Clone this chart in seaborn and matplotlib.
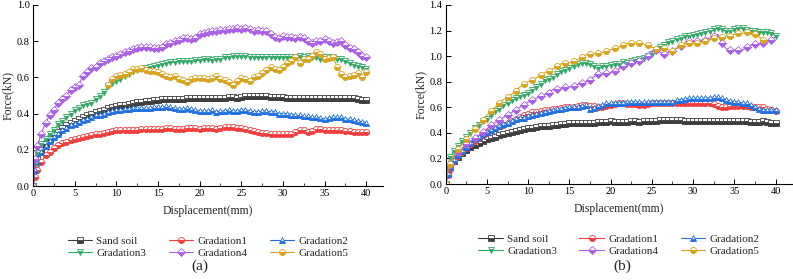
import numpy as np
import pandas as pd
import matplotlib
matplotlib.use("Agg")
import matplotlib.pyplot as plt
from matplotlib.ticker import MultipleLocator
import seaborn as sns

nan = np.nan

# Displacement (mm)
DISP = [0.0, 0.25, 0.5,
        1.0, 1.5, 2.0, 2.5, 3.0, 3.5, 4.0, 4.5, 5.0, 5.5,
        6.0, 6.5, 7.0, 7.5, 8.0, 8.5, 9.0, 9.5, 10.0, 10.5,
        11.0, 11.5, 12.0, 12.5, 13.0, 13.5, 14.0, 14.5, 15.0, 15.5,
        16.0, 16.5, 17.0, 17.5, 18.0, 18.5, 19.0, 19.5, 20.0, 20.5,
        21.0, 21.5, 22.0, 22.5, 23.0, 23.5, 24.0, 24.5, 25.0, 25.5,
        26.0, 26.5, 27.0, 27.5, 28.0, 28.5, 29.0, 29.5, 30.0, 30.5,
        31.0, 31.5, 32.0, 32.5, 33.0, 33.5, 34.0, 34.5, 35.0, 35.5,
        36.0, 36.5, 37.0, 37.5, 38.0, 38.5, 39.0, 39.5, 40.0]

SERIES = ["Sand soil", "Gradation1", "Gradation2", "Gradation3", "Gradation4", "Gradation5"]

# ---------------- Panel (a) ----------------
A_SAND = [0.0, 0.10, 0.15,
          0.20, 0.23, 0.26, 0.28, 0.30, 0.32, 0.335, 0.35, 0.36, 0.37,
          0.38, 0.39, 0.40, 0.41, 0.415, 0.42, 0.43, 0.435, 0.44, 0.445,
          0.45, 0.455, 0.46, 0.465, 0.465, 0.47, 0.47, 0.475, 0.475, 0.48,
          0.48, 0.48, 0.48, 0.48, 0.48, 0.485, 0.485, 0.485, 0.485, 0.485,
          0.485, 0.485, 0.485, 0.485, 0.485, 0.49, 0.49, 0.485, 0.49, 0.495,
          0.495, 0.50, 0.50, 0.50, 0.50, 0.49, 0.49, 0.49, 0.49, 0.485,
          0.485, 0.485, 0.485, 0.485, 0.485, 0.485, 0.485, 0.485, 0.485, 0.485,
          0.485, 0.485, 0.485, 0.485, 0.485, 0.485, 0.48, 0.475, 0.475]
A_G1 = [0.0, 0.05, 0.09,
        0.13, 0.17, 0.19, 0.21, 0.225, 0.235, 0.245, 0.255, 0.26, 0.265,
        0.27, 0.275, 0.28, 0.285, 0.29, 0.295, 0.30, 0.305, 0.31, 0.31,
        0.31, 0.31, 0.31, 0.31, 0.315, 0.315, 0.315, 0.315, 0.315, 0.315,
        0.32, 0.32, 0.315, 0.315, 0.315, 0.32, 0.32, 0.32, 0.315, 0.32,
        0.32, 0.32, 0.315, 0.32, 0.325, 0.325, 0.325, 0.32, 0.32, 0.315,
        0.31, 0.305, 0.30, 0.295, 0.295, 0.29, 0.29, 0.29, 0.29, 0.29,
        0.29, 0.30, 0.31, 0.31, 0.30, 0.305, 0.315, 0.315, 0.31, 0.31,
        0.31, 0.31, 0.31, 0.305, 0.305, 0.30, 0.30, 0.30, 0.30]
A_G2 = [0.0, 0.09, 0.14,
        0.19, 0.22, 0.25, 0.27, 0.29, 0.31, 0.32, 0.335, 0.345, 0.355,
        0.365, 0.37, 0.38, 0.39, 0.395, 0.40, 0.41, 0.415, 0.42, 0.42,
        0.425, 0.425, 0.43, 0.43, 0.43, 0.43, 0.43, 0.435, 0.435, 0.435,
        0.44, 0.435, 0.43, 0.425, 0.425, 0.43, 0.425, 0.42, 0.415, 0.415,
        0.415, 0.42, 0.41, 0.415, 0.415, 0.42, 0.415, 0.415, 0.42, 0.42,
        0.415, 0.41, 0.41, 0.415, 0.415, 0.41, 0.41, 0.40, 0.40, 0.40,
        0.395, 0.39, 0.39, 0.385, 0.385, 0.38, 0.38, 0.375, 0.37, 0.375,
        0.38, 0.38, 0.38, 0.37, 0.37, 0.365, 0.36, 0.355, 0.35]
A_G3 = [0.0, 0.12, 0.18,
        0.23, 0.26, 0.29, 0.31, 0.34, 0.36, 0.38, 0.40, 0.42, 0.43,
        0.445, 0.455, 0.46, 0.48, 0.50, 0.52, 0.55, 0.57, 0.58, 0.59,
        0.61, 0.62, 0.635, 0.64, 0.645, 0.65, 0.66, 0.665, 0.67, 0.675,
        0.68, 0.685, 0.685, 0.69, 0.69, 0.69, 0.69, 0.695, 0.695, 0.70,
        0.70, 0.695, 0.70, 0.70, 0.71, 0.715, 0.72, 0.72, 0.72, 0.72,
        0.715, 0.71, 0.71, 0.71, 0.71, 0.715, 0.71, 0.71, 0.715, 0.71,
        0.715, 0.71, 0.72, 0.71, 0.72, 0.715, 0.715, 0.70, 0.71, 0.715,
        0.71, 0.70, 0.70, 0.69, 0.68, 0.67, 0.665, 0.66, 0.645]
A_G4 = [0.0, 0.15, 0.22,
        0.29, 0.35, 0.39, 0.42, 0.46, 0.48, 0.50, 0.53, 0.545, 0.56,
        0.61, 0.63, 0.65, 0.66, 0.68, 0.69, 0.70, 0.71, 0.72, 0.73,
        0.74, 0.745, 0.755, 0.76, 0.77, 0.77, 0.77, 0.765, 0.76, 0.77,
        0.785, 0.79, 0.80, 0.805, 0.815, 0.82, 0.81, 0.82, 0.84, 0.845,
        0.85, 0.855, 0.855, 0.86, 0.86, 0.865, 0.87, 0.875, 0.87, 0.875,
        0.865, 0.855, 0.86, 0.855, 0.855, 0.84, 0.825, 0.82, 0.83, 0.825,
        0.825, 0.82, 0.825, 0.815, 0.80, 0.79, 0.80, 0.80, 0.81, 0.80,
        0.79, 0.795, 0.80, 0.78, 0.76, 0.755, 0.74, 0.72, 0.71]
A_G5 = [nan, nan, nan,
        nan, nan, nan, nan, nan, nan, nan, nan, nan, nan,
        nan, nan, nan, nan, nan, nan, 0.56, 0.59, 0.61, 0.615,
        0.62, 0.63, 0.645, 0.645, 0.65, 0.64, 0.635, 0.635, 0.63, 0.62,
        0.605, 0.60, 0.605, 0.59, 0.585, 0.575, 0.59, 0.595, 0.595, 0.595,
        0.59, 0.595, 0.61, 0.59, 0.585, 0.575, 0.56, 0.58, 0.595, 0.59,
        0.58, 0.60, 0.61, 0.625, 0.64, 0.655, 0.645, 0.64, 0.66, 0.68,
        0.69, 0.71, 0.68, 0.70, 0.70, 0.72, 0.74, 0.73, 0.70, 0.705,
        0.71, 0.66, 0.62, 0.60, 0.61, 0.615, 0.625, 0.60, 0.63]

# ---------------- Panel (b) ----------------
B_SAND = [0.0, 0.08, 0.13,
          0.18, 0.21, 0.24, 0.265, 0.29, 0.305, 0.32, 0.335, 0.35, 0.36,
          0.37, 0.38, 0.39, 0.40, 0.41, 0.415, 0.42, 0.43, 0.435, 0.44,
          0.445, 0.45, 0.455, 0.455, 0.46, 0.465, 0.47, 0.47, 0.475, 0.475,
          0.475, 0.48, 0.48, 0.48, 0.48, 0.485, 0.485, 0.485, 0.49, 0.485,
          0.485, 0.485, 0.485, 0.49, 0.49, 0.485, 0.49, 0.49, 0.495, 0.495,
          0.50, 0.50, 0.50, 0.50, 0.50, 0.50, 0.495, 0.495, 0.495, 0.495,
          0.495, 0.495, 0.495, 0.49, 0.495, 0.49, 0.49, 0.49, 0.49, 0.49,
          0.495, 0.49, 0.485, 0.485, 0.485, 0.49, 0.485, 0.48, 0.48]
B_G1 = [0.0, 0.07, 0.12,
        0.18, 0.22, 0.25, 0.28, 0.31, 0.335, 0.36, 0.38, 0.40, 0.42,
        0.435, 0.45, 0.465, 0.48, 0.495, 0.51, 0.525, 0.54, 0.55, 0.56,
        0.565, 0.57, 0.575, 0.58, 0.585, 0.59, 0.595, 0.60, 0.605, 0.605,
        0.61, 0.615, 0.615, 0.61, 0.61, 0.605, 0.60, 0.61, 0.62, 0.625,
        0.63, 0.63, 0.625, 0.625, 0.625, 0.62, 0.62, 0.625, 0.63, 0.63,
        0.635, 0.635, 0.63, 0.63, 0.635, 0.635, 0.635, 0.635, 0.635, 0.63,
        0.63, 0.63, 0.63, 0.625, 0.61, 0.60, 0.605, 0.61, 0.61, 0.61,
        0.61, 0.61, 0.605, 0.60, 0.60, 0.60, 0.59, 0.58, 0.57]
B_G2 = [0.0, 0.08, 0.13,
        0.19, 0.23, 0.26, 0.29, 0.32, 0.35, 0.37, 0.39, 0.41, 0.425,
        0.44, 0.455, 0.47, 0.48, 0.495, 0.505, 0.515, 0.52, 0.53, 0.54,
        0.545, 0.555, 0.56, 0.57, 0.575, 0.585, 0.59, 0.595, 0.60, 0.60,
        0.605, 0.61, 0.615, 0.59, 0.595, 0.61, 0.62, 0.63, 0.63, 0.635,
        0.635, 0.635, 0.64, 0.64, 0.64, 0.64, 0.64, 0.64, 0.645, 0.645,
        0.645, 0.645, 0.645, 0.645, 0.655, 0.66, 0.665, 0.67, 0.67, 0.67,
        0.67, 0.67, 0.675, 0.68, 0.68, 0.67, 0.66, 0.65, 0.645, 0.64,
        0.635, 0.63, 0.615, 0.60, 0.585, 0.58, 0.58, 0.58, 0.58]
B_G3 = [0.0, 0.13, 0.21,
        0.26, 0.30, 0.34, 0.37, 0.40, 0.44, 0.46, 0.49, 0.51, 0.54,
        0.57, 0.59, 0.615, 0.635, 0.655, 0.67, 0.685, 0.70, 0.715, 0.735,
        0.76, 0.785, 0.81, 0.825, 0.84, 0.86, 0.88, 0.895, 0.91, 0.92,
        0.935, 0.945, 0.95, 0.935, 0.92, 0.91, 0.92, 0.925, 0.93, 0.935,
        0.94, 0.955, 0.95, 0.96, 0.97, 0.975, 0.985, 1.00, 1.02, 1.05,
        1.07, 1.09, 1.11, 1.12, 1.135, 1.145, 1.155, 1.16, 1.165, 1.17,
        1.18, 1.19, 1.20, 1.215, 1.22, 1.215, 1.20, 1.20, 1.21, 1.22,
        1.22, 1.205, 1.20, 1.195, 1.19, 1.185, 1.185, 1.18, 1.16]
B_G4 = [0.0, 0.09, 0.15,
        0.21, 0.25, 0.28, 0.31, 0.33, 0.36, 0.38, 0.41, 0.43, 0.46,
        0.48, 0.50, 0.52, 0.54, 0.56, 0.58, 0.60, 0.62, 0.64, 0.655,
        0.67, 0.685, 0.70, 0.71, 0.74, 0.745, 0.75, 0.755, 0.76, 0.77,
        0.78, 0.79, 0.80, 0.815, 0.84, 0.86, 0.865, 0.87, 0.87, 0.88,
        0.90, 0.92, 0.935, 0.945, 0.955, 0.96, 0.96, 1.00, 1.03, 1.05,
        1.03, 1.02, 1.03, 1.04, 1.06, 1.08, 1.10, 1.115, 1.12, 1.12,
        1.125, 1.13, 1.14, 1.155, 1.17, 1.10, 1.06, 1.05, 1.05, 1.045,
        1.05, 1.07, 1.085, 1.095, 1.10, 1.105, 1.11, 1.13, 1.15]
B_G5 = [0.0, 0.10, 0.16,
        0.22, 0.27, 0.31, 0.35, 0.39, 0.43, 0.47, 0.50, 0.54, 0.57,
        0.60, 0.63, 0.66, 0.68, 0.70, 0.73, 0.76, 0.78, 0.80, 0.815,
        0.83, 0.85, 0.87, 0.885, 0.90, 0.92, 0.94, 0.945, 0.95, 0.96,
        0.97, 0.99, 1.01, 1.015, 1.02, 1.025, 1.03, 1.04, 1.05, 1.06,
        1.07, 1.085, 1.10, 1.10, 1.105, 1.105, 1.095, 1.085, 1.07, 1.055,
        1.055, 1.06, 1.05, 1.04, 1.06, 1.09, 1.10, 1.10, 1.10, 1.105,
        1.11, 1.12, 1.13, 1.14, 1.145, 1.15, 1.155, 1.16, 1.17, 1.18,
        1.18, 1.185, 1.19, 1.17, 1.15, 1.13, 1.11, nan, nan]

COLORS = ["#3d3d3d", "#f23c3c", "#1f6fe0", "#2fa865", "#a95ee6", "#d9a21b"]
MARKERS = ["s", "o", "^", "v", "D", "o"]
MARKEVERY_A = [1, 1, 1, 1, 1, 1]
MARKEVERY_B = [1, 1, 1, 1, 2, 2]

sns.set_style("ticks")
plt.rcParams["font.family"] = ["Liberation Serif", "DejaVu Serif"]

fig = plt.figure(figsize=(7.93, 2.80), dpi=100)
ax_a = fig.add_axes([33 / 793, 1 - 186 / 280, (383 - 33) / 793, 181 / 280])
ax_b = fig.add_axes([445.7 / 793, 1 - 184 / 280, (792 - 445.7) / 793, 179 / 280])


def draw(ax, data, ymax, markevery, caption, cap_x):
    for name, vals, col, mk, me in zip(SERIES, data, COLORS, MARKERS, markevery):
        df = pd.DataFrame({"x": DISP, "y": vals}).dropna()
        sns.lineplot(data=df, x="x", y="y", ax=ax, estimator=None, sort=False,
                     color=col, linewidth=0.8, label=name,
                     marker=mk, markersize=4.4, fillstyle="bottom",
                     markerfacecoloralt="white", markeredgecolor=col,
                     markeredgewidth=0.6, markevery=me)
    ax.set_xlim(0, 42)
    ax.set_ylim(0, ymax)
    ax.xaxis.set_major_locator(MultipleLocator(5))
    ax.xaxis.set_minor_locator(MultipleLocator(2.5))
    ax.yaxis.set_major_locator(MultipleLocator(0.2))
    ax.yaxis.set_major_formatter(matplotlib.ticker.FormatStrFormatter("%.1f"))
    for s in ["top", "right"]:
        ax.spines[s].set_visible(False)
    for s in ["left", "bottom"]:
        ax.spines[s].set_linewidth(0.8)
        ax.spines[s].set_color("black")
    ax.tick_params(axis="both", which="major", direction="in", length=3.5,
                   width=0.7, labelsize=7.5, pad=2.5, colors="black")
    ax.tick_params(axis="both", which="minor", direction="in", length=2, width=0.6)
    ax.set_xlabel("Displacement(mm)", fontsize=8.5, labelpad=5)
    ax.set_ylabel("Force(kN)", fontsize=8.5, labelpad=2)
    handles, labels = ax.get_legend_handles_labels()
    order = [0, 3, 1, 4, 2, 5]
    ax.legend([handles[i] for i in order], [labels[i] for i in order],
              loc="upper center", bbox_to_anchor=(0.5, -0.245), ncol=3,
              frameon=False, fontsize=8, handlelength=2.2, handletextpad=0.4,
              columnspacing=2.0, labelspacing=0.2, borderpad=0.05)
    fig.text(cap_x / 793, 1 - 266 / 280, caption, ha="center", va="center", fontsize=11)


draw(ax_a, [A_SAND, A_G1, A_G2, A_G3, A_G4, A_G5], 1.0, MARKEVERY_A, "(a)", 200)
draw(ax_b, [B_SAND, B_G1, B_G2, B_G3, B_G4, B_G5], 1.4, MARKEVERY_B, "(b)", 622)

fig.savefig("out.png", dpi=100)
